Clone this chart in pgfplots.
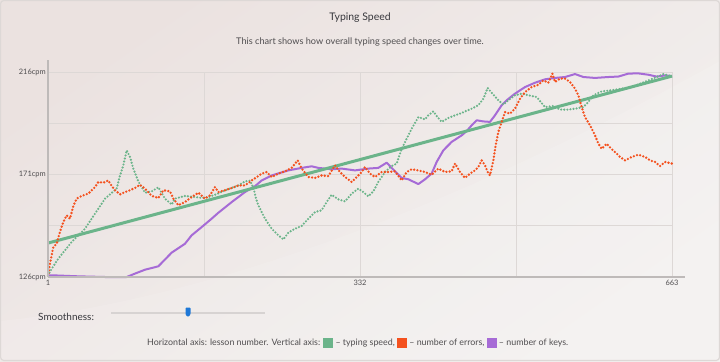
\documentclass[border=0pt]{standalone}
\usepackage{pgfplots}
\pgfplotsset{compat=1.18}
\usepackage{fontspec}
\setmainfont{Lato}
\definecolor{bgA}{RGB}{235,226,224}
\definecolor{bgB}{RGB}{243,241,240}
\definecolor{gridc}{RGB}{221,216,214}
\definecolor{axc}{RGB}{190,186,185}
\definecolor{txtc}{RGB}{80,78,80}
\definecolor{titlec}{RGB}{55,55,60}
\definecolor{spd}{RGB}{107,180,138}
\definecolor{err}{RGB}{244,81,30}
\definecolor{keys}{RGB}{166,107,214}
\definecolor{trackc}{RGB}{215,211,210}
\definecolor{knobc}{RGB}{30,120,215}
\begin{document}
\begin{tikzpicture}[x=1bp,y=1bp]
\path[use as bounding box] (0,0) rectangle (720,361);
\shade[shading=axis, top color=bgA, bottom color=bgB, shading angle=35] (0,0) rectangle (720,361);
\fill[white, opacity=0.12] (0,0) -- (0,40) .. controls (200,60) and (450,150) .. (720,300) -- (720,0) -- cycle;
\draw[rounded corners=3bp, color=gridc, line width=1.2bp] (0.6,0.6) rectangle (719.4,360.4);
\begin{axis}[
  at={(48bp,84bp)}, anchor=south west, scale only axis,
  width=624bp, height=205bp,
  xmin=1, xmax=663, ymin=126, ymax=216,
  axis line style={draw=none},
  xtick={1,332,663}, ytick={126,171,216},
  minor xtick={166.5,497.5}, minor ytick={148.5,193.5},
  grid=both,
  major grid style={gridc, line width=0.9bp},
  minor grid style={gridc, line width=0.9bp},
  major tick length=0pt, minor tick length=0pt,
  tick label style={font=\fontsize{7.5}{9}\selectfont, text=txtc},
  xticklabel style={inner sep=1.5bp, yshift=-1bp},
  yticklabel style={inner sep=2bp},
  yticklabel={\pgfmathprintnumber{\tick}cpm},
  xticklabel={\pgfmathprintnumber{\tick}},
  /pgf/number format/assume math mode=true,
  /pgf/number format/1000 sep={},
  clip=false,
]
\addplot[keys, line width=2bp, line join=round] coordinates {
(1,126.7)(8.4,126.7)(33.2,126.3)(61.5,126.0)(84.5,126.0)(93.3,127.5)(103.9,129.2)(118.1,130.7)(132.2,136.7)(146.3,140.6)(153.4,144.3)(164.0,147.9)(174.6,151.6)(181.7,154.2)(195.9,158.9)(210.0,163.3)(221,166)(227.7,168.4)(238.3,170.6)(256.0,172.8)(270.1,173.9)(280.7,174.6)(287.8,173.9)(301.9,173.3)(312.5,173.6)(326.7,172.8)(340.8,173.6)(351.4,173.9)(360.3,176.2)(365.6,173.9)(376.2,169.5)(383.3,168.9)(393.9,166.8)(401.0,168.9)(408.0,171.4)(413.3,176.5)(420.4,181.6)(429.2,185.3)(439.9,188.2)(445,190)(450.5,192.6)(455.8,194.8)(462.9,194.3)(469.9,194.1)(475.2,197.0)(482.3,201.4)(487.6,203.6)(496.4,206.5)(507.1,209.4)(517.7,211.3)(528.3,212.8)(538.9,213.4)(549.5,213.8)(560.1,215.1)(569.0,213.8)(581.3,213.4)(595.5,213.8)(606.1,214.0)(616.7,215.3)(627.3,215.4)(637.9,214.8)(646.7,214.0)(655.6,214.5)(663,214.2)
};
\addplot[spd, line width=3bp] coordinates {(1,140.9)(663,214.2)};
\addplot[spd, line width=2.4bp, line cap=round, dash pattern=on 0pt off 3.1bp] coordinates {
(1,126.7)(4.9,129.6)(12.0,134.1)(19.0,137.7)(26.1,141.4)(33.2,144.3)(40.3,147.2)(47.3,151.6)(54.4,156.0)(61.5,160.4)(68.5,162.9)(73.8,164.8)(77.4,170.6)(80.9,175.0)(84.5,181.6)(88.0,178.7)(91.5,173.6)(96.8,168.0)(103.9,163.0)(111.0,163.6)(118.1,165.4)(125.1,160.4)(132.2,157.8)(135.7,160.4)(146.3,161.6)(157.0,161.1)(164.0,160.7)(171.1,161.1)(178.2,162.1)(188.8,164.0)(195.9,165.1)(203.0,166.2)(210.0,168.0)(215.3,168.3)(219,165)(222,160)(224.1,157.5)(231.2,151.6)(238.3,147.2)(245.4,144.3)(250.7,142.5)(256.0,145.5)(263.0,147.2)(270.1,148.4)(277.2,151.6)(284.3,154.5)(291.3,155.3)(296.6,158.9)(301.9,162.1)(309.0,160.1)(316.1,159.2)(323.2,162.6)(330.2,164.8)(335.5,163.3)(340.8,161.4)(346.1,163.6)(351.4,167.7)(358.5,172.1)(365.6,174.7)(370.9,175.8)(376.2,182.3)(381.5,186.7)(386.8,191.1)(393.9,196.2)(401.0,195.2)(404.5,197.0)(409.8,198.7)(413.3,196.7)(418.6,194.1)(425.7,195.8)(432.8,197.0)(439.9,198.0)(443.4,198.7)(450.5,199.9)(457.5,201.4)(462.9,204.3)(467.4,209.0)(471.7,206.9)(478.8,203.6)(484.1,201.7)(489.4,203.6)(496.4,205.8)(503.5,206.5)(510.6,205.8)(519.4,205.0)(528.3,200.6)(537.1,201.1)(544.2,199.5)(553.0,199.5)(560.1,199.9)(568.9,200.6)(574.2,202.8)(579.5,205.8)(588.4,207.5)(599.0,208.0)(609.6,208.7)(620.2,209.3)(629.1,210.9)(637.9,212.3)(646.7,213.8)(653.8,215.1)(659.1,214.5)(663,214.2)
};
\addplot[err, line width=2.6bp, line cap=round, dash pattern=on 0pt off 3.3bp] coordinates {
(1.4,127.5)(3.1,131.9)(6.7,139.2)(10.2,140.6)(13.7,145.8)(17.3,150.2)(20.8,153.1)(24.3,151.6)(27.9,157.2)(31.4,160.4)(36.7,161.6)(43.8,162.6)(50.9,165.5)(54.4,167.7)(59.7,167.4)(65.0,168.4)(68.5,166.0)(72.1,164.1)(77.4,162.3)(82.7,163.3)(88.0,164.1)(93.3,165.1)(98.6,166.5)(103.9,164.8)(111.0,161.6)(118.1,160.7)(123.4,164.1)(130.4,163.6)(134.0,160.4)(139.3,157.5)(146.3,158.9)(153.4,161.1)(160.5,163.0)(167.6,160.4)(172.9,161.9)(178.2,165.5)(181.7,163.3)(188.8,164.1)(195.9,165.1)(203.0,166.2)(210.0,166.2)(217.1,168.4)(222.7,169.9)(227.7,171.4)(233.0,172.1)(238.3,169.9)(245.4,171.4)(252.4,172.4)(259.5,173.9)(265.9,177.2)(270.1,173.6)(277.2,169.9)(284.3,169.5)(291.3,170.6)(298.4,170.3)(305.5,175.0)(310.8,172.1)(316.1,169.9)(323.2,167.7)(328.5,169.9)(333.8,172.1)(337.3,174.3)(342.6,171.4)(347.9,169.9)(355.0,172.1)(362.1,172.1)(369.1,172.4)(376.2,168.4)(381.5,172.1)(386.8,173.3)(393.9,172.8)(401.0,172.1)(408.0,170.9)(415.1,173.6)(422.2,172.1)(429.2,172.4)(432.8,175.8)(438.1,172.1)(443.4,169.5)(448.7,171.4)(454.0,172.8)(457.5,174.3)(461.1,177.2)(464.6,175.0)(468.2,171.4)(469.9,170.6)(473.5,177.2)(475.9,183.8)(478.8,189.7)(482.3,194.1)(485.8,198.4)(491.1,197.7)(496.4,199.9)(501.8,204.3)(507.1,207.2)(514.1,209.4)(521.2,210.4)(526.5,212.3)(531.8,211.3)(536.1,215.3)(538.9,211.6)(544.2,213.1)(549.5,213.1)(554.8,211.6)(560.1,208.7)(563.6,205.8)(567.2,200.6)(570.7,196.2)(576.0,192.6)(581.3,188.2)(584.9,184.5)(588.4,182.3)(593.7,184.5)(599.0,182.1)(604.3,180.2)(607.8,178.7)(613.2,177.2)(620.2,178.7)(627.3,179.7)(634.4,178.7)(639.7,177.2)(645.0,176.5)(650.3,174.7)(655.6,176.5)(663,175.8)
};
\draw[axc, line width=1.5bp] (axis cs:1,126) -- ([yshift=12bp]axis cs:1,216);
\draw[axc, line width=2bp] (axis cs:1,126) -- ([xshift=13bp]axis cs:663,126);
\end{axis}
\node[text=titlec, font=\fontsize{10.5}{12}\selectfont] at (360,343) {Typing Speed};
\node[text=txtc, font=\fontsize{9.2}{11}\selectfont] at (360,319) {This chart shows how overall typing speed changes over time.};
\node[text=titlec, anchor=west, inner sep=0, font=\fontsize{10}{12}\selectfont] at (38,44.5) {Smoothness:};
\draw[trackc, line width=1.2bp] (111,48) -- (265,48);
\fill[knobc, rounded corners=0.8bp] (185.5,53.5) -- (190.5,53.5) -- (190.5,46.5) -- (188,44) -- (185.5,46.5) -- cycle;
\node[text=txtc, anchor=west, inner sep=0, font=\fontsize{8.9}{10}\selectfont] at (147,18.5) {Horizontal axis: lesson number. Vertical axis: \raisebox{-2.2bp}{\textcolor{spd}{\rule{10bp}{10bp}}} – typing speed, \raisebox{-2.2bp}{\textcolor{err}{\rule{10bp}{10bp}}} – number of errors, \raisebox{-2.2bp}{\textcolor{keys}{\rule{10bp}{10bp}}} – number of keys.};
\end{tikzpicture}
\end{document}
